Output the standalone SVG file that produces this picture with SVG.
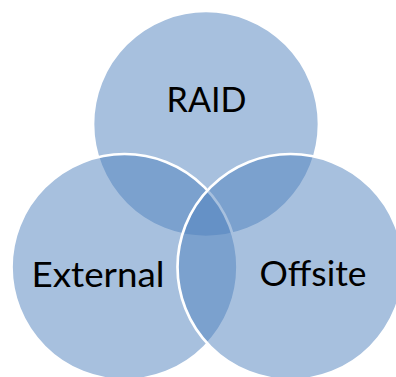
<svg xmlns="http://www.w3.org/2000/svg" width="396" height="377" viewBox="0 0 396 377">
  <style>
    .venn { fill: #4F81BD; fill-opacity: 0.5; stroke: #FFFFFF; stroke-width: 2.7; }
    .lbl { font-family: Lato, "Liberation Sans", sans-serif; font-size: 34px; fill: #000000; text-anchor: middle; }
  </style>
  <rect width="396" height="377" fill="#FFFFFF"/>
  <g id="node-raid">
    <circle class="venn" cx="206" cy="124" r="113"/>
  </g>
  <g id="node-external">
    <circle class="venn" cx="124.5" cy="267" r="113"/>
  </g>
  <g id="node-offsite">
    <circle class="venn" cx="290.5" cy="267" r="113"/>
  </g>
  <g id="connectors"></g>
  <g id="labels">
    <text class="lbl" x="206.5" y="112" textLength="80" lengthAdjust="spacingAndGlyphs">RAID</text>
    <text class="lbl" x="98" y="287" textLength="133" lengthAdjust="spacingAndGlyphs">External</text>
    <text class="lbl" x="313" y="286" textLength="107" lengthAdjust="spacingAndGlyphs">Offsite</text>
  </g>
</svg>
